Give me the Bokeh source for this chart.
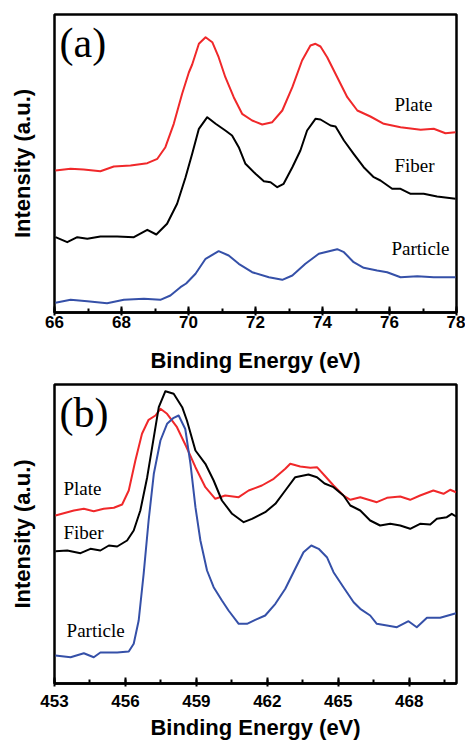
from bokeh.plotting import figure
from bokeh.layouts import column
from bokeh.models import SingleIntervalTicker, FixedTicker, Label, Range1d
from bokeh.embed import file_html
from bokeh.resources import INLINE

# ---------- Panel (a) data: binding energy (eV) vs intensity (a.u.) ----------
a_plate_x = [66.03, 66.48, 66.87, 67.37, 67.77, 68.27, 68.77, 69.07, 69.31, 69.56, 69.81, 70.01, 70.11,
             70.31, 70.51, 70.71, 70.90, 71.10, 71.35, 71.60, 71.90, 72.20, 72.50, 72.80, 73.10, 73.39,
             73.64, 73.79, 73.94, 74.14, 74.44, 74.74, 75.04, 75.43, 75.83, 76.33, 76.93, 77.32, 77.67,
             77.97]
a_plate_y = [142.0, 143.7, 143.0, 141.3, 146.0, 147.0, 149.3, 153.7, 165.3, 188.7, 218.7, 240.0, 248.0,
             268.7, 275.3, 270.3, 255.3, 235.3, 215.3, 198.7, 192.0, 188.0, 190.3, 202.0, 225.3, 252.0,
             267.0, 268.7, 266.0, 255.3, 235.3, 215.3, 202.0, 196.0, 188.7, 185.3, 182.7, 183.7, 179.3,
             180.3]

a_fiber_x = [66.03, 66.38, 66.68, 66.98, 67.37, 67.87, 68.37, 68.77, 69.04, 69.36, 69.66, 69.91, 70.11,
             70.31, 70.56, 70.81, 71.10, 71.30, 71.50, 71.70, 72.00, 72.25, 72.45, 72.65, 72.84, 73.10,
             73.34, 73.54, 73.79, 73.94, 74.24, 74.39, 74.64, 74.93, 75.23, 75.53, 75.73, 76.08, 76.33,
             76.63, 77.02, 77.42, 77.97]
a_fiber_y = [75.3, 70.3, 75.3, 73.7, 76.0, 76.0, 75.3, 82.7, 78.0, 88.7, 108.7, 135.0, 158.7,
             183.7, 195.3, 188.7, 182.0, 177.0, 165.3, 148.7, 138.7, 131.3, 130.3, 125.3, 128.7, 145.3,
             162.0, 182.0, 193.7, 193.0, 187.0, 186.0, 172.0, 158.7, 145.3, 135.3, 132.0, 123.7, 123.7,
             118.7, 118.7, 116.0, 113.7]

a_particle_x = [66.03, 66.48, 66.98, 67.57, 68.07, 68.67, 69.16, 69.46, 69.76, 69.93, 70.21, 70.51, 70.90,
                71.20, 71.50, 71.90, 72.40, 72.80, 73.10, 73.49, 73.89, 74.44, 74.64, 74.93, 75.23, 75.63,
                75.93, 76.33, 76.83, 77.32, 77.97]
a_particle_y = [9.7, 12.7, 11.3, 9.3, 12.7, 13.7, 12.7, 17.0, 25.3, 29.0, 38.7, 53.7, 61.3,
                57.0, 48.7, 40.3, 35.3, 32.7, 37.0, 48.7, 58.7, 63.3, 60.3, 50.3, 44.7, 42.0,
                40.3, 35.3, 36.3, 35.3, 35.3]

# ---------- Panel (b) data ----------
b_plate_x = [453.04, 453.39, 453.82, 454.24, 454.66, 455.08, 455.51, 455.86, 456.14, 456.42, 456.70, 456.98,
             457.27, 457.48, 457.76, 458.18, 458.57, 458.96, 459.38, 459.80, 460.22, 460.79, 461.21, 461.77,
             462.27, 462.76, 462.97, 463.39, 463.82, 464.10, 464.42, 464.80, 465.22, 465.51, 465.93, 466.63,
             467.06, 467.62, 468.04, 468.46, 469.02, 469.45, 469.73, 469.98]
b_plate_y = [168.0, 170.3, 173.0, 174.7, 172.3, 174.7, 175.7, 179.0, 193.0, 223.0, 249.7, 263.7,
             268.0, 274.7, 269.7, 256.3, 237.0, 216.3, 196.3, 184.7, 188.0, 186.3, 193.0, 198.0,
             204.7, 214.7, 219.7, 217.0, 215.7, 216.3, 208.0, 198.0, 188.0, 183.7, 186.3, 181.3,
             185.7, 187.0, 183.7, 188.0, 193.0, 189.7, 193.7, 191.3]

b_fiber_x = [453.04, 453.54, 454.10, 454.52, 454.94, 455.30, 455.65, 456.07, 456.35, 456.63, 456.92, 457.20,
             457.41, 457.69, 458.04, 458.40, 458.60, 458.96, 459.38, 459.73, 460.08, 460.51, 461.00, 461.35,
             461.91, 462.34, 462.76, 463.18, 463.74, 464.10, 464.42, 464.80, 465.22, 465.51, 465.93, 466.35,
             466.77, 467.20, 467.62, 468.04, 468.46, 468.89, 469.17, 469.59, 469.80, 469.98]
b_fiber_y = [132.3, 133.0, 130.3, 134.7, 133.0, 138.0, 137.0, 143.0, 153.0, 173.0, 206.3, 246.3,
             276.3, 292.3, 289.7, 276.3, 263.0, 233.0, 219.7, 203.0, 183.0, 169.7, 161.3, 164.7,
             171.3, 179.7, 193.0, 206.3, 209.0, 206.3, 200.0, 196.3, 188.0, 178.0, 173.0, 163.0,
             158.0, 159.7, 158.0, 154.7, 159.7, 159.0, 164.7, 166.3, 169.7, 167.0]

b_particle_x = [453.04, 453.68, 454.24, 454.66, 454.94, 455.65, 456.14, 456.35, 456.56, 456.77, 456.98, 457.20,
                457.48, 457.76, 458.04, 458.25, 458.53, 458.75, 458.96, 459.17, 459.45, 459.73, 460.08, 460.36,
                460.79, 461.14, 461.49, 461.91, 462.34, 462.76, 463.18, 463.53, 463.86, 464.17, 464.52, 464.80,
                465.22, 465.65, 465.93, 466.35, 466.63, 467.06, 467.48, 467.97, 468.32, 468.75, 469.31, 469.98]
b_particle_y = [28.0, 26.3, 30.3, 26.3, 31.0, 31.0, 32.0, 39.7, 63.0, 109.7, 163.0, 209.7,
                243.0, 259.7, 265.7, 268.0, 254.5, 219.7, 176.3, 143.0, 113.0, 96.3, 83.0, 73.0,
                59.7, 59.7, 63.7, 68.0, 79.7, 94.7, 114.7, 131.3, 138.0, 134.7, 126.3, 111.3,
                96.3, 81.3, 74.7, 68.0, 59.7, 58.0, 56.3, 62.3, 56.3, 65.7, 65.7, 70.3]

series_names = ["Plate", "Fiber", "Particle"]
colors = ["#f0282a", "#000000", "#3550a8"]

SANS = "Liberation Sans"
SERIF = "Liberation Serif"


def make_panel(xr, yr, interval, frame_h, b_top, b_bottom, lab_standoff, title_standoff):
    p = figure(frame_width=402, frame_height=frame_h, output_backend="svg", toolbar_location=None,
               x_range=Range1d(*xr), y_range=Range1d(*yr),
               min_border_left=54, min_border_right=9, min_border_top=b_top, min_border_bottom=b_bottom)
    p.xgrid.visible = False
    p.ygrid.visible = False
    p.outline_line_color = "black"
    p.outline_line_width = 2.5
    p.outline_line_alpha = 1.0
    p.background_fill_color = "white"
    p.border_fill_color = "white"

    xa = p.xaxis[0]
    xa.ticker = SingleIntervalTicker(interval=interval, num_minor_ticks=2)
    xa.axis_line_width = 2.5
    xa.major_tick_line_width = 2
    xa.minor_tick_line_width = 2
    xa.major_tick_in = 6
    xa.major_tick_out = 3
    xa.minor_tick_in = 4
    xa.minor_tick_out = 0
    xa.major_label_text_font = SANS
    xa.major_label_text_font_style = "bold"
    xa.major_label_text_font_size = "17px"
    xa.major_label_text_color = "black"
    xa.major_label_standoff = lab_standoff
    xa.axis_label = "Binding Energy (eV)"
    xa.axis_label_text_font = SANS
    xa.axis_label_text_font_style = "bold"
    xa.axis_label_text_font_size = "22px"
    xa.axis_label_text_color = "black"
    xa.axis_label_standoff = title_standoff

    ya = p.yaxis[0]
    ya.ticker = FixedTicker(ticks=[])
    ya.axis_line_color = None
    ya.major_tick_line_color = None
    ya.minor_tick_line_color = None
    ya.major_label_text_font_size = "0px"
    ya.axis_label = "Intensity (a.u.)"
    ya.axis_label_text_font = SANS
    ya.axis_label_text_font_style = "bold"
    ya.axis_label_text_font_size = "22px"
    ya.axis_label_text_color = "black"
    ya.axis_label_standoff = 20
    return p


# Panel (a): frame 14..312, bottom border 66 -> figure height 378
pa = make_panel((66, 78), (0, 298), 2, 298, 14, 66, 0, 17)
for xs, ys, c in zip([a_plate_x, a_fiber_x, a_particle_x], [a_plate_y, a_fiber_y, a_particle_y], colors):
    pa.line(xs, ys, line_color=c, line_width=2, line_join="round")
pa.add_layout(Label(x=66.15, y=270, text="(a)", text_font=SERIF, text_font_size="42px",
                    text_baseline="middle", text_color="black"))
for name, lx, ly in zip(series_names, [76.15, 76.15, 76.06], [208, 147, 64]):
    pa.add_layout(Label(x=lx, y=ly, text=name, text_font=SERIF, text_font_size="19px",
                        text_baseline="middle", text_color="black"))

# Panel (b): frame 384..683
pb = make_panel((453, 470), (0, 299), 3, 299, 6, 0, 8, 5)
for xs, ys, c in zip([b_plate_x, b_fiber_x, b_particle_x], [b_plate_y, b_fiber_y, b_particle_y], colors):
    pb.line(xs, ys, line_color=c, line_width=2, line_join="round")
pb.add_layout(Label(x=453.21, y=271, text="(b)", text_font=SERIF, text_font_size="42px",
                    text_baseline="middle", text_color="black"))
for name, lx, ly in zip(series_names, [453.38, 453.38, 453.51], [195, 151, 53]):
    pb.add_layout(Label(x=lx, y=ly, text=name, text_font=SERIF, text_font_size="19px",
                        text_baseline="middle", text_color="black"))

layout = column(pa, pb, spacing=0)
open("out.html", "w").write(file_html(layout, INLINE))
